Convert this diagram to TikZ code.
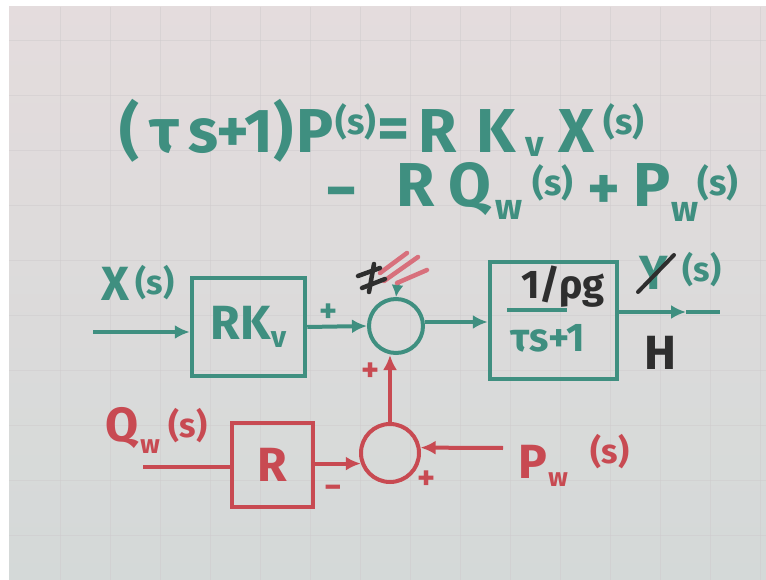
\documentclass[tikz,border=0pt]{standalone}
\usepackage{fontspec}
\setmainfont{Fira Sans}
\usetikzlibrary{arrows.meta}
\definecolor{teal1}{HTML}{3F8F80}
\definecolor{red1}{HTML}{C84A52}
\definecolor{pink1}{HTML}{D8707C}
\definecolor{ink}{HTML}{2E2E2E}
\definecolor{bgtop}{HTML}{E4DCDD}
\definecolor{bgbot}{HTML}{D4D9D8}
\definecolor{gridc}{HTML}{CFCBCD}
\begin{document}
\begin{tikzpicture}[x=1pt,y=-1pt,
 big/.style={font=\fontsize{62}{66}\selectfont\bfseries, inner sep=0pt, text=teal1},
 small/.style={font=\fontsize{36}{38}\selectfont\bfseries, inner sep=0pt, text=teal1},
 lab/.style={font=\fontsize{48}{52}\selectfont\bfseries, inner sep=0pt},
 labg/.style={font=\fontsize{40}{44}\selectfont\bfseries, inner sep=0pt},
 labm/.style={font=\fontsize{34}{36}\selectfont\bfseries, inner sep=0pt},
 labs/.style={font=\fontsize{26}{28}\selectfont\bfseries, inner sep=0pt},
 tline/.style={draw=teal1, line width=4pt},
 rline/.style={draw=red1, line width=4pt},
 tip/.style={-{Latex[length=15pt,width=14pt]}},
 blk/.style={line width=4.5pt, minimum width=#1, inner sep=0pt},
 sumc/.style={circle, line width=4pt, minimum size=#1, inner sep=0pt},
 gridl/.style={gridc, line width=0.5pt, opacity=0.5},
]
\useasboundingbox (0,0) rectangle (766,580);
\fill[white] (0,0) rectangle (766,580);
\shade[top color=bgtop, bottom color=bgbot] (9,7) rectangle (766,580);
\foreach \gx in {60,110,...,760} {\draw[gridl] (\gx,7) -- (\gx,580);}
\foreach \gy in {40,95,...,580} {\draw[gridl] (9,\gy) -- (766,\gy);}

% ---- equation line 1
\node[big, anchor=base] (e1o) at (130,153) {(};
\node[big, anchor=base] (e1t) at (164,153) {τ};
\node[big, anchor=base] (e1s) at (203,153) {s};
\node[big, anchor=base] (e1pl) at (233,153) {+};
\node[big, anchor=base] (e1one) at (259,153) {1};
\node[big, anchor=base] (e1c) at (284,153) {)};
\node[big, anchor=base] (e1p) at (315,153) {P};
\node[small] (e1ps) at (356,122) {(s)};
\node[big] (e1eq) at (394,134) {=};
\node[big, anchor=base] (e1r) at (438,153) {R};
\node[big, anchor=base] (e1k) at (496,153) {K};
\node[small] (e1v) at (535,147) {v};
\node[big, anchor=base] (e1x) at (577,153) {X};
\node[small] (e1xs) at (624,122) {(s)};
% ---- equation line 2
\node[big, anchor=base] (e2m) at (342,212) {−};
\node[big, anchor=base] (e2r) at (416,207) {R};
\node[big, anchor=base] (e2q) at (470,207) {Q};
\node[small] (e2w) at (509,210) {w};
\node[small] (e2s) at (553,183) {(s)};
\node[big, anchor=base] (e2pl) at (604,210) {+};
\node[big, anchor=base] (e2p) at (652,207) {P};
\node[small] (e2w2) at (685,212) {w};
\node[small] (e2s2) at (718,183) {(s)};

% ---- upper loop (teal)
\node[lab, text=teal1] (xl) at (115,284) {X};
\node[labm, text=teal1] (xls) at (155,283) {(s)};
\coordinate (xin) at (93,332);
\node[blk=113pt, minimum height=98pt, draw=teal1, lab, text=teal1] (rkv) at (248.5,327) {RK\raisebox{-0.3ex}{\fontsize{30}{32}\selectfont v}};
\draw[tline, tip] (xin) -- (xin -| rkv.west);
\node[sumc=54pt, draw=teal1] (s1) at (396,326) {};
\draw[tline, tip] (rkv.east) -- (s1.west);
\node[labm, text=teal1] (p1) at (329,313) {+};
\node[blk=127pt, minimum height=117pt, draw=teal1] (g) at (553.5,320.5) {};
\draw[tline, tip] (s1.east |- 0,322) -- (g.west |- 0,322);
\node[labg, text=ink] (gnum) at (563,287) {1/ρg};
\draw[tline] (507,310) -- (567,310);
\node[labg, text=teal1] (gden) at (548,338) {τs+1};
\coordinate (gout) at (720,312);
\coordinate (gmid) at (686,312);
\draw[tline, tip] (g.east |- gout) -- (gmid);
\draw[tline] (gmid) -- (gout);
\node[lab, text=teal1] (yl) at (654,273) {Y};
\draw[ink, line width=4pt, line cap=round] (638,292) -- (674,255);
\node[labm, text=teal1] (yls) at (702,270) {(s)};
\node[lab, text=ink] (hl) at (660,353) {H};
% crossed-out marks above summing junction
\coordinate (topin) at (398,281);
\draw[tline, -{Latex[length=12pt,width=12pt]}] (topin) -- (s1.north);
\draw[pink1, line width=4.5pt, line cap=round] (380,273) -- (407,253);
\draw[pink1, line width=4.5pt, line cap=round] (384,281) -- (418,257);
\draw[pink1, line width=4.5pt, line cap=round] (397,283) -- (427,270);
\draw[ink, line width=4.5pt, line cap=round] (358,276) -- (380,268);
\draw[ink, line width=4.5pt, line cap=round] (362,288) -- (385,279);
\draw[ink, line width=4.5pt, line cap=round] (374,264) -- (369,292);

% ---- lower loop (red)
\node[sumc=58pt, draw=red1] (s2) at (390,453) {};
\draw[rline, tip] (s2.north) -- (s2.north |- s1.south);
\node[labm, text=red1] (p2) at (371,372) {+};
\node[lab, text=red1] (ql) at (122,428) {Q};
\node[labs, text=red1] (qlw) at (150,447) {w};
\node[labm, text=red1] (qls) at (188,426) {(s)};
\coordinate (qin) at (143,467);
\node[blk=81pt, minimum height=84pt, draw=red1, lab, text=red1] (rb) at (272.5,465) {R};
\draw[rline] (qin) -- (rb.west |- qin);
\draw[rline, tip] (rb.east |- s2.200) -- (s2.200);
\node[labm, text=red1] (m2) at (333,492) {−};
\coordinate (pin) at (503,448);
\draw[rline, tip] (pin) -- (s2.10);
\node[labm, text=red1] (p3) at (427,480) {+};
\node[lab, text=red1, anchor=base] (pl) at (533,478) {P};
\node[labs, text=red1] (plw) at (558,480) {w};
\node[labm, text=red1] (pls) at (610,452) {(s)};
\end{tikzpicture}
\end{document}
